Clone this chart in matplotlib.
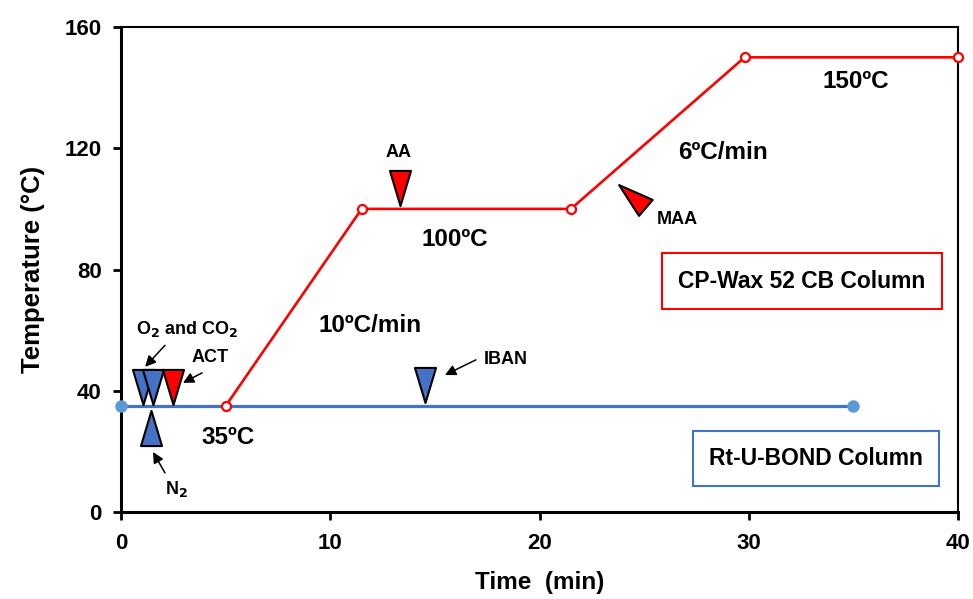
import matplotlib.pyplot as plt
from matplotlib.markers import MarkerStyle
from matplotlib.path import Path
from matplotlib.transforms import Affine2D

plt.rcParams["font.family"] = ["Liberation Sans", "DejaVu Sans"]
plt.rcParams["font.weight"] = "bold"

# temperature programmes
wax_time = [5, 11.5, 21.5, 29.8, 40]
wax_temp = [35, 100, 100, 150, 150]
bond_time = [0, 35]
bond_temp = [35, 35]

# peak markers
peak_names = ["O2a", "O2b", "ACT", "N2", "AA", "IBAN", "MAA"]
peak_time = [1.05, 1.55, 2.5, 1.43, 13.33, 14.52, 24.4]
peak_temp = [41.3, 41.3, 41.3, 27.7, 106.8, 41.9, 104.4]
peak_color = ["#4472C4", "#4472C4", "#FF0000", "#4472C4", "#FF0000", "#4472C4", "#FF0000"]
peak_rot = [0, 0, 0, 180, 0, 0, 229.5]

BLUE = "#4472C4"
RED = "#FF0000"

tri = Path([(-0.3, 0.5), (0.3, 0.5), (0, -0.5), (-0.3, 0.5)],
           [Path.MOVETO, Path.LINETO, Path.LINETO, Path.CLOSEPOLY])

fig = plt.figure(figsize=(9.73, 5.99), dpi=100)
ax = fig.add_axes([0.1244, 0.1452, 0.8602, 0.8097])

ax.plot(bond_time, bond_temp, color=BLUE, lw=2.3, marker="o", ms=8,
        mfc="#5B9BD5", mec="#5B9BD5", zorder=3, clip_on=False)
ax.plot(wax_time, wax_temp, color=RED, lw=1.9, marker="o", ms=6.5,
        mfc="white", mec=RED, mew=1.6, zorder=4, clip_on=False)

for t, T, c, r in zip(peak_time, peak_temp, peak_color, peak_rot):
    m = MarkerStyle(tri, transform=Affine2D().rotate_deg(r))
    ax.scatter([t], [T], marker=m, s=640, c=c, edgecolors="black",
               linewidths=1.5, zorder=5)

arrow = dict(arrowstyle="-|>", color="black", lw=1.1, mutation_scale=16,
             shrinkA=0, shrinkB=0)
ax.text(3.15, 60.5, "O$_\\mathbf{2}$ and CO$_\\mathbf{2}$", fontsize=13,
        ha="center", va="center")
ax.annotate("", xy=(1.15, 47.9), xytext=(2.1, 55), arrowprops=arrow)
ax.text(4.25, 51, "ACT", fontsize=13, ha="center", va="center")
ax.annotate("", xy=(2.96, 42.6), xytext=(3.87, 45.9), arrowprops=arrow)
ax.text(2.67, 7.5, "N$_\\mathbf{2}$", fontsize=13, ha="center", va="center")
ax.annotate("", xy=(1.53, 19.8), xytext=(2.1, 12.9), arrowprops=arrow)
ax.text(18.4, 50.3, "IBAN", fontsize=13, ha="center", va="center")
ax.annotate("", xy=(15.48, 45.2), xytext=(16.96, 50.2), arrowprops=arrow)
ax.text(13.28, 118.6, "AA", fontsize=13, ha="center", va="center")
ax.text(26.6, 96.4, "MAA", fontsize=13, ha="center", va="center")

ax.text(11.9, 61.4, "10ºC/min", fontsize=17.5, ha="center", va="center")
ax.text(5.1, 24.6, "35ºC", fontsize=17.5, ha="center", va="center")
ax.text(15.96, 89.8, "100ºC", fontsize=17.5, ha="center", va="center")
ax.text(28.76, 118.5, "6ºC/min", fontsize=17.5, ha="center", va="center")
ax.text(35.1, 141.9, "150ºC", fontsize=17.5, ha="center", va="center")

ax.text(32.54, 76.2, "CP-Wax 52 CB Column", fontsize=16.5, ha="center", va="center",
        bbox=dict(boxstyle="square,pad=0.7", fc="white", ec=RED, lw=1.5))
ax.text(33.2, 17.8, "Rt-U-BOND Column", fontsize=16.5, ha="center", va="center",
        bbox=dict(boxstyle="square,pad=0.7", fc="white", ec=BLUE, lw=1.5))

ax.set_xlim(0, 40)
ax.set_ylim(0, 160)
ax.set_xticks([0, 10, 20, 30, 40])
ax.set_yticks([0, 40, 80, 120, 160])
ax.tick_params(axis="both", direction="out", length=6, width=2, labelsize=16)
ax.tick_params(axis="x", pad=9)
ax.tick_params(axis="y", pad=8)
for lab in ax.get_xticklabels() + ax.get_yticklabels():
    lab.set_fontweight("bold")
ax.spines["left"].set_linewidth(2.2)
ax.spines["bottom"].set_linewidth(2.2)
ax.spines["top"].set_linewidth(1.5)
ax.spines["right"].set_linewidth(1.5)
ax.set_xlabel("Time  (min)", fontsize=17.5, fontweight="bold", labelpad=12)
ax.set_ylabel("Temperature (°C)", fontsize=18.5, fontweight="bold", labelpad=14)

fig.savefig("out.png", dpi=100)
